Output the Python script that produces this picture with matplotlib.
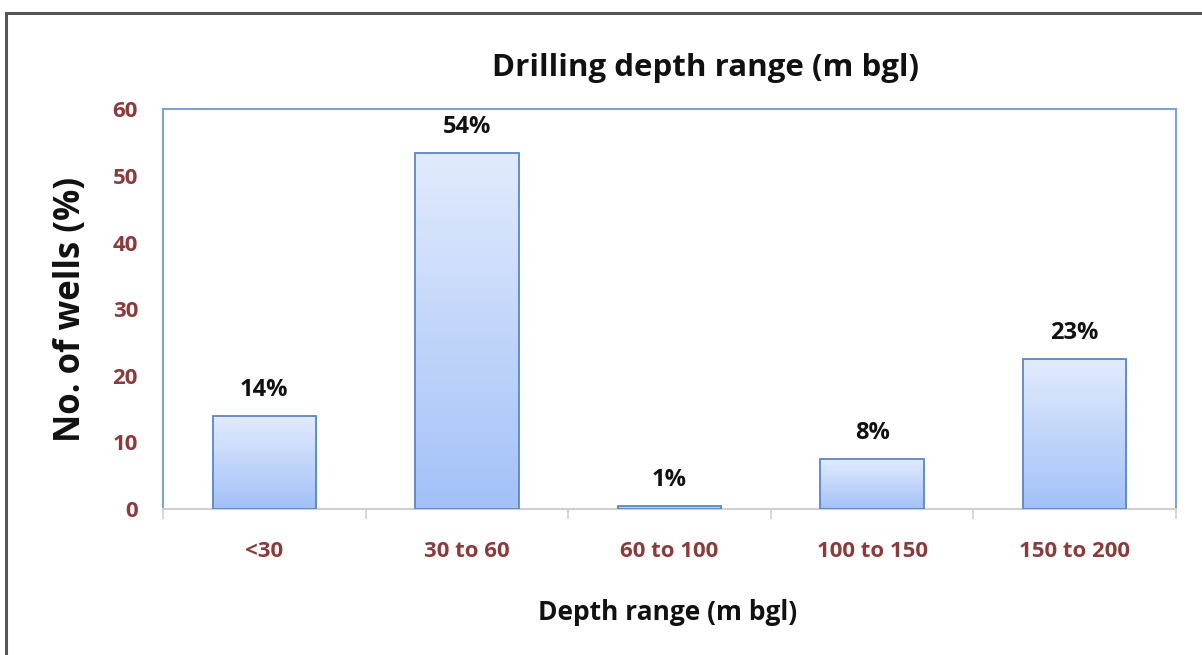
import matplotlib
matplotlib.use("Agg")
import matplotlib.pyplot as plt
import numpy as np
from matplotlib.colors import LinearSegmentedColormap
from matplotlib.patches import Rectangle

categories = ["<30", "30 to 60", "60 to 100", "100 to 150", "150 to 200"]
values = [14, 53.5, 0.5, 7.5, 22.5]
labels = ["14%", "54%", "1%", "8%", "23%"]
yticks = [0, 10, 20, 30, 40, 50, 60]

plt.rcParams['font.family'] = ['Open Sans', 'DejaVu Sans']

W, H = 1202, 655
fig = plt.figure(figsize=(W / 100, H / 100), dpi=100)
fig.patch.set_facecolor("white")

# outer frame
fig.patches.append(Rectangle((6 / W, -0.1), 1.2, 1 - 13 / H + 0.1, transform=fig.transFigure,
                             fill=False, edgecolor="#555555", linewidth=2.2, zorder=0))

ax = fig.add_axes([163 / W, 1 - 509 / H, (1176 - 163) / W, (509 - 109.3) / H])

x = np.arange(len(categories))
bars = ax.bar(x, values, width=0.51, facecolor="none", edgecolor="#5A86C5", linewidth=1.3, zorder=3)

cmap = LinearSegmentedColormap.from_list("g", ["#E2EBFD", "#A3C1F8"])
grad = np.linspace(0, 1, 256).reshape(-1, 1)
for b in bars:
    x0, w, h = b.get_x(), b.get_width(), b.get_height()
    im = ax.imshow(grad, extent=[x0, x0 + w, 0, h], aspect="auto", cmap=cmap,
                   origin="upper", zorder=2, interpolation="bilinear")
    im.set_clip_path(b)

for xi, v, lab in zip(x, values, labels):
    ax.annotate(lab, (xi, v), xytext=(0, 10), textcoords="offset points",
                ha="center", va="bottom", fontsize=17, fontweight="bold", color="#111111")

ax.set_xlim(-0.5, len(categories) - 0.5)
ax.set_ylim(0, 60)
ax.set_yticks(yticks)
ax.set_yticklabels([str(t) for t in yticks], fontsize=16, fontweight="bold", color="#8B3B3B")
ax.set_xticks(x)
ax.set_xticklabels(categories, fontsize=16, fontweight="bold", color="#8B3B3B")
ax.set_xticks(np.arange(-0.5, len(categories)), minor=True)
ax.tick_params(axis="x", which="major", length=0, pad=23)
ax.tick_params(axis="x", which="minor", length=7, color="#D0D0D0", width=1.2, direction="out")
ax.tick_params(axis="y", length=0, pad=18)

for s in ["left", "top", "right"]:
    ax.spines[s].set_color("#7EA2D6")
    ax.spines[s].set_linewidth(1.5)
ax.spines["bottom"].set_color("#D0D0D0")
ax.spines["bottom"].set_linewidth(1.5)

ax.set_xlabel("Depth range (m bgl)", fontsize=19, fontweight="bold", color="#111111", va="center")
ax.xaxis.set_label_coords(0.4985, -0.2577)
ax.set_ylabel("No. of wells (%)", fontsize=25, fontweight="bold", color="#111111", va="center")
ax.yaxis.set_label_coords(-0.091, 0.5)
fig.text(706 / W, 1 - 68 / H, "Drilling depth range (m bgl)", fontsize=22.5, fontweight="bold",
         color="#111111", ha="center", va="center")

fig.savefig("out.png", dpi=100, facecolor="white")
